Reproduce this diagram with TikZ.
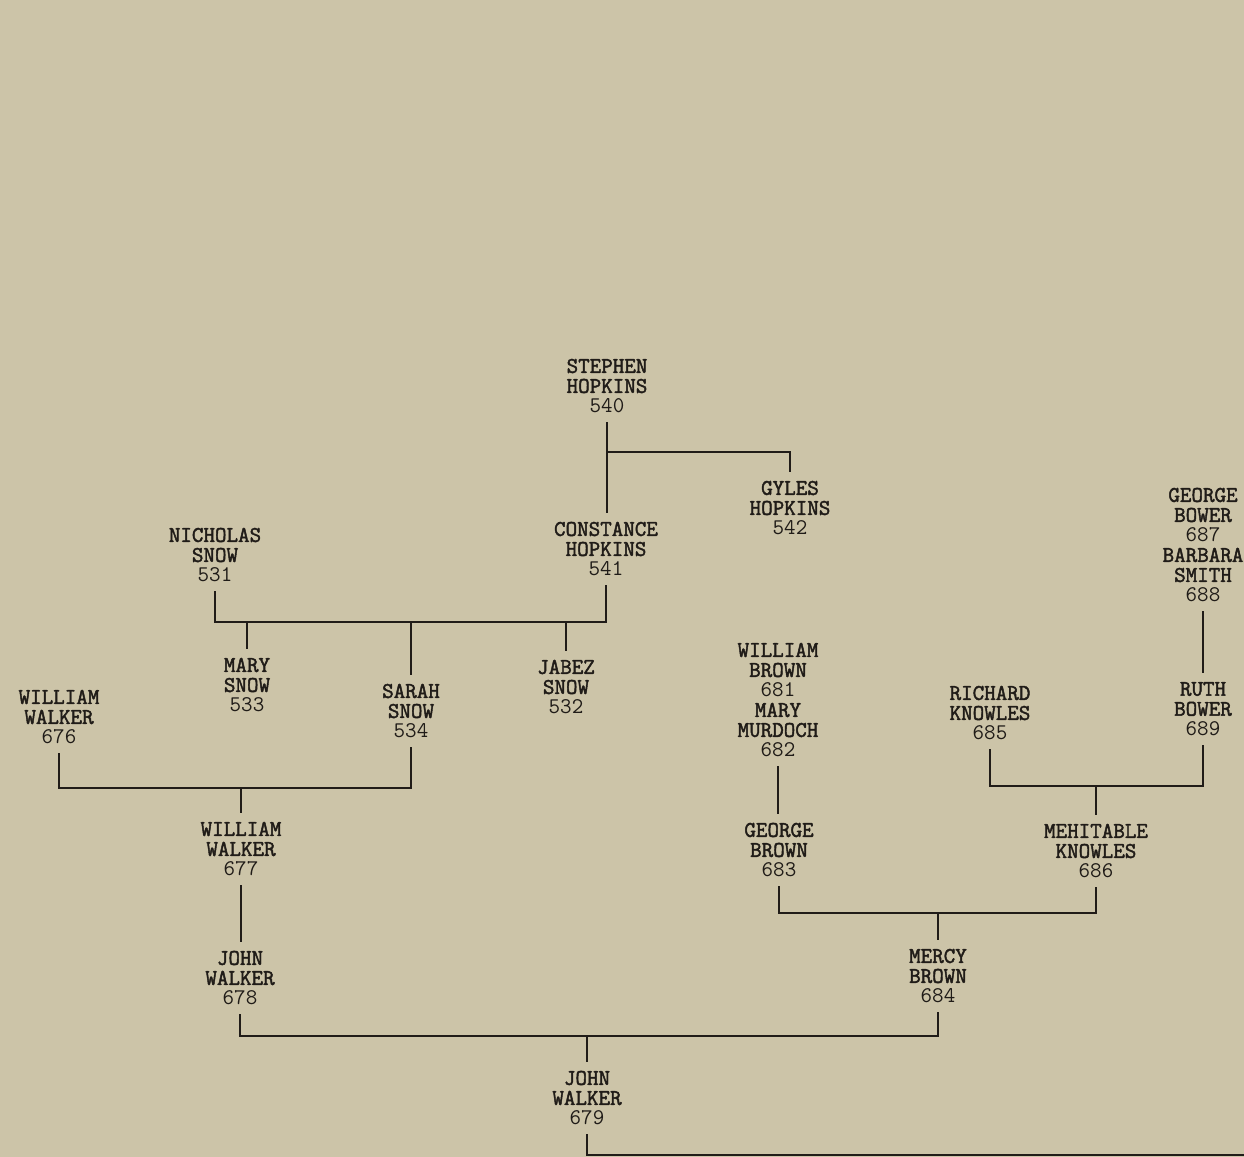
\documentclass[tikz,border=0pt]{standalone}
\usepackage{fontspec}
\setmonofont{Latin Modern Mono}[AutoFakeBold=2]
\definecolor{paper}{RGB}{204,196,168}
\definecolor{ink}{RGB}{32,28,24}
\tikzset{
  chart/.style={x=0.5pt,y=-0.5pt,line width=1pt,draw=ink},
  person/.style={align=center,inner sep=4pt,text=ink,font=\ttfamily\fontsize{11.2}{10}\selectfont},
}
\newcommand{\who}[3]{\textbf{#1}\\\textbf{#2}\\#3}

\begin{document}
\begin{tikzpicture}[chart]
    \useasboundingbox (0,0) rectangle (1244,1157);
    \fill[paper] (0,0) rectangle (1244,1157);
    \node[person] (n540) at (607,386) {\who{STEPHEN}{HOPKINS}{540}};
    \node[person] (n542) at (790,508) {\who{GYLES}{HOPKINS}{542}};
    \node[person] (n541) at (606,549) {\who{CONSTANCE}{HOPKINS}{541}};
    \node[person] (n531) at (215,555) {\who{NICHOLAS}{SNOW}{531}};
    \node[person] (n533) at (247,685) {\who{MARY}{SNOW}{533}};
    \node[person] (n534) at (411,711) {\who{SARAH}{SNOW}{534}};
    \node[person] (n532) at (566,687) {\who{JABEZ}{SNOW}{532}};
    \node[person] (n676) at (59,717) {\who{WILLIAM}{WALKER}{676}};
    \node[person] (n677) at (241,849) {\who{WILLIAM}{WALKER}{677}};
    \node[person] (n678) at (240,978) {\who{JOHN}{WALKER}{678}};
    \node[person] (n679) at (587,1098) {\who{JOHN}{WALKER}{679}};
    \node[person] (n681) at (778,700) {\who{WILLIAM}{BROWN}{681}\\\who{MARY}{MURDOCH}{682}};
    \node[person] (n683) at (779,850) {\who{GEORGE}{BROWN}{683}};
    \node[person] (n684) at (938,976) {\who{MERCY}{BROWN}{684}};
    \node[person] (n685) at (990,713) {\who{RICHARD}{KNOWLES}{685}};
    \node[person] (n686) at (1096,851) {\who{MEHITABLE}{KNOWLES}{686}};
    \node[person] (n687) at (1203,545) {\who{GEORGE}{BOWER}{687}\\\who{BARBARA}{SMITH}{688}};
    \node[person] (n689) at (1203,709) {\who{RUTH}{BOWER}{689}};
    \coordinate (barhop) at (0,452);
    \coordinate (barsnow) at (0,622);
    \coordinate (barww) at (0,788);
    \coordinate (barkn) at (0,786);
    \coordinate (barbr) at (0,913);
    \coordinate (barjw) at (0,1036);
    \coordinate (offpage) at (1244,1155);
    \draw (n540.south) -- (n540.south |- n541.north);
    \draw (n540.south |- barhop) -| (n542.north);
    \draw (n531.south) |- (n541.south |- barsnow) -- (n541.south);
    \foreach \c in {n533,n534,n532} \draw (\c.north |- barsnow) -- (\c.north);
    \draw (n676.south) |- (n534.south |- barww) -- (n534.south);
    \draw (n677.north |- barww) -- (n677.north);
    \draw (n677.south) -- (n677.south |- n678.north);
    \draw (n678.south) |- (n684.south |- barjw) -- (n684.south);
    \draw (n679.north |- barjw) -- (n679.north);
    \draw (n679.south) |- (offpage);
    \draw (n681.south) -- (n681.south |- n683.north);
    \draw (n683.south) |- (n686.south |- barbr) -- (n686.south);
    \draw (n684.north |- barbr) -- (n684.north);
    \draw (n685.south) |- (n689.south |- barkn) -- (n689.south);
    \draw (n686.north |- barkn) -- (n686.north);
    \draw (n687.south) -- (n689.north);
\end{tikzpicture}
\end{document}
